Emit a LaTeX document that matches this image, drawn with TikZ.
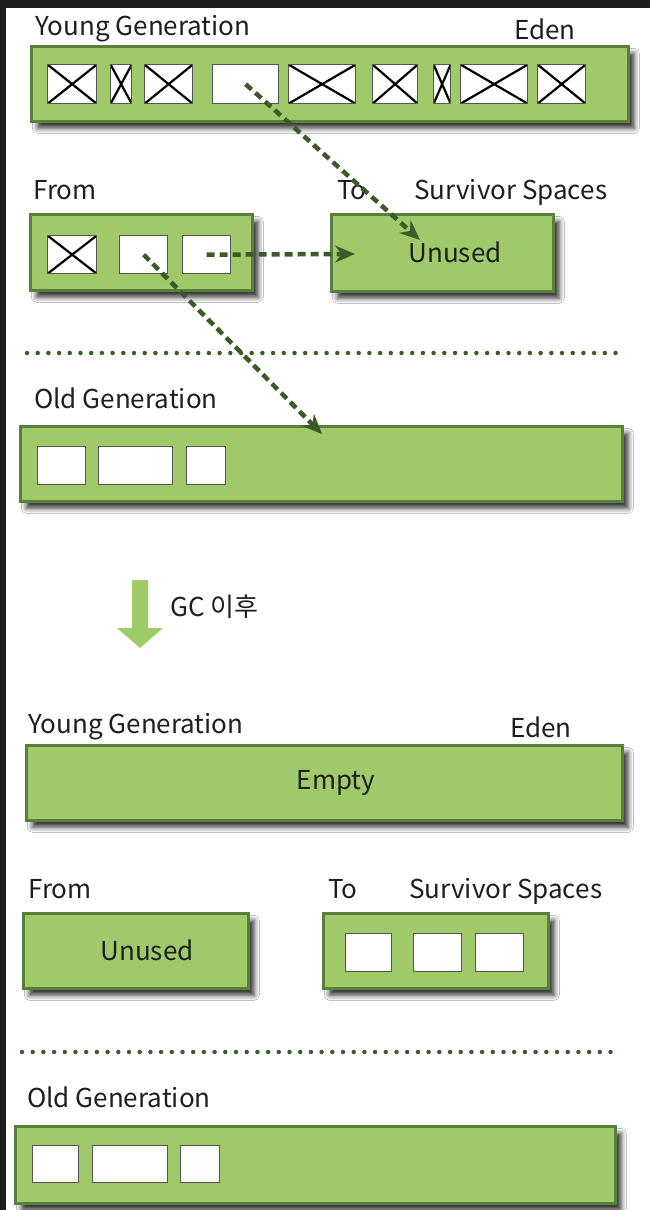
\documentclass[tikz,border=0pt]{standalone}
\usepackage{fontspec}
\newfontfamily\krfont{Noto Sans CJK KR}
\usetikzlibrary{arrows.meta,shadows.blur}

\definecolor{spacefill}{RGB}{160,201,106}
\definecolor{spaceline}{RGB}{88,128,58}
\definecolor{objline}{RGB}{85,85,85}
\definecolor{movecol}{RGB}{60,90,40}
\definecolor{dotcol}{RGB}{55,95,40}
\definecolor{gcgreen}{RGB}{157,203,101}
\definecolor{framecol}{RGB}{31,31,31}
\definecolor{textcol}{RGB}{30,30,30}

\tikzset{
	space/.style = {draw=spaceline, line width=2.6pt, fill=spacefill, inner sep=0pt, anchor=north west,
		blur shadow={shadow xshift=6pt, shadow yshift=-7pt, shadow blur radius=5pt, shadow opacity=80}},
	obj/.style = {draw=objline, line width=1.3pt, fill=white, inner sep=0pt, anchor=north west},
	dead/.style = {obj, path picture={
		\draw [line width=2.2pt, black] (path picture bounding box.north west) -- (path picture bounding box.south east)
			(path picture bounding box.south west) -- (path picture bounding box.north east);}},
	lbl/.style = {font=\krfont\fontsize{26}{32}\selectfont, text=textcol, inner sep=0pt, anchor=base west},
	move/.style = {draw=movecol, line width=4.5pt, dash pattern=on 8pt off 5pt, -{Stealth[length=20pt,width=17pt]}},
	sep/.style = {draw=dotcol, line width=4.5pt, line cap=round, dash pattern=on 0pt off 10.7pt}
}

\begin{document}
\begin{tikzpicture}[x=1pt, y=-1pt]
	\useasboundingbox (0,0) rectangle (650,1210);
	\fill [white] (0,0) rectangle (650,1210);
	\fill [framecol] (0,0) rectangle (650,8);
	\fill [framecol] (0,0) rectangle (6,1210);

	% before GC
	\node [lbl] (young) at (35,35) {Young Generation};
	\node [lbl] (eden) at (514,39) {Eden};
	\node [space, minimum width=597pt, minimum height=75pt] (edenbox) at (30,45) {};
	\node [dead, minimum width=49pt, minimum height=39pt] (e1) at (47,64) {};
	\node [dead, minimum width=21pt, minimum height=39pt] (e2) at (110,64) {};
	\node [dead, minimum width=48pt, minimum height=39pt] (e3) at (144,64) {};
	\node [obj,  minimum width=66pt, minimum height=39pt] (e4) at (212,64) {};
	\node [dead, minimum width=67pt, minimum height=39pt] (e5) at (288,64) {};
	\node [dead, minimum width=45pt, minimum height=39pt] (e6) at (372,64) {};
	\node [dead, minimum width=17pt, minimum height=39pt] (e7) at (433,64) {};
	\node [dead, minimum width=67pt, minimum height=39pt] (e8) at (460,64) {};
	\node [dead, minimum width=48pt, minimum height=39pt] (e9) at (537,64) {};

	\node [lbl] (from) at (33,199) {From};
	\node [lbl] (to) at (337,199) {To};
	\node [lbl] (survivor) at (414,199) {Survivor Spaces};
	\node [space, minimum width=222pt, minimum height=76pt] (frombox) at (29,213) {};
	\node [dead, minimum width=49pt, minimum height=38pt] (fa) at (47,235) {};
	\node [obj,  minimum width=48pt, minimum height=38pt] (fb) at (119,235) {};
	\node [obj,  minimum width=48pt, minimum height=38pt] (fc) at (182,235) {};
	\node [space, minimum width=222pt, minimum height=77pt] (tobox) at (330,213) {};
	\node [lbl, anchor=center] (unused) at (455,252) {Unused};

	\coordinate (sepa) at (27,353);
	\coordinate (sepb) at (622,353);
	\draw [sep] (sepa) -- (sepb);

	\node [lbl] (old) at (34,408) {Old Generation};
	\node [space, minimum width=602pt, minimum height=75pt] (oldbox) at (19,425) {};
	\node [obj, minimum width=48pt, minimum height=38pt] (o1) at (37,446) {};
	\node [obj, minimum width=74pt, minimum height=38pt] (o2) at (98,446) {};
	\node [obj, minimum width=39pt, minimum height=38pt] (o3) at (186,446) {};

	% copies
	\coordinate (hit1) at (420,240);
	\coordinate (hit2) at (355,254);
	\coordinate (hit3) at (322,434);
	\draw [move] (e4.center) -- (hit1);
	\draw [move] (fc.center) -- (hit2);
	\draw [move] (fb.center) -- (hit3);

	% GC
	\fill [gcgreen] (132,580) -- (148,580) -- (148,628) -- (163,628) -- (140,648) -- (117,628) -- (132,628) -- cycle;
	\node [lbl] (gc) at (170,616) {GC 이후};

	% after GC
	\node [lbl] (young2) at (28,733) {Young Generation};
	\node [lbl] (eden2) at (510,737) {Eden};
	\node [space, minimum width=596pt, minimum height=75pt] (edenbox2) at (25,744) {};
	\node [lbl, anchor=center] (empty) at (336,783) {Empty};

	\node [lbl] (from2) at (28,898) {From};
	\node [lbl] (to2) at (328,898) {To};
	\node [lbl] (survivor2) at (409,898) {Survivor Spaces};
	\node [space, minimum width=225pt, minimum height=75pt] (frombox2) at (22,912) {};
	\node [lbl, anchor=center] (unused2) at (147,950) {Unused};
	\node [space, minimum width=225pt, minimum height=75pt] (tobox2) at (322,912) {};
	\node [obj, minimum width=46pt, minimum height=38pt] (t1) at (345,933) {};
	\node [obj, minimum width=48pt, minimum height=38pt] (t2) at (413,933) {};
	\node [obj, minimum width=48pt, minimum height=38pt] (t3) at (475,933) {};

	\coordinate (sepc) at (22,1052);
	\coordinate (sepd) at (620,1052);
	\draw [sep] (sepc) -- (sepd);

	\node [lbl] (old2) at (27,1107) {Old Generation};
	\node [space, minimum width=600pt, minimum height=77pt] (oldbox2) at (14,1125) {};
	\node [obj, minimum width=46pt, minimum height=37pt] (p1) at (32,1145) {};
	\node [obj, minimum width=75pt, minimum height=37pt] (p2) at (92,1145) {};
	\node [obj, minimum width=39pt, minimum height=37pt] (p3) at (180,1145) {};
\end{tikzpicture}
\end{document}
